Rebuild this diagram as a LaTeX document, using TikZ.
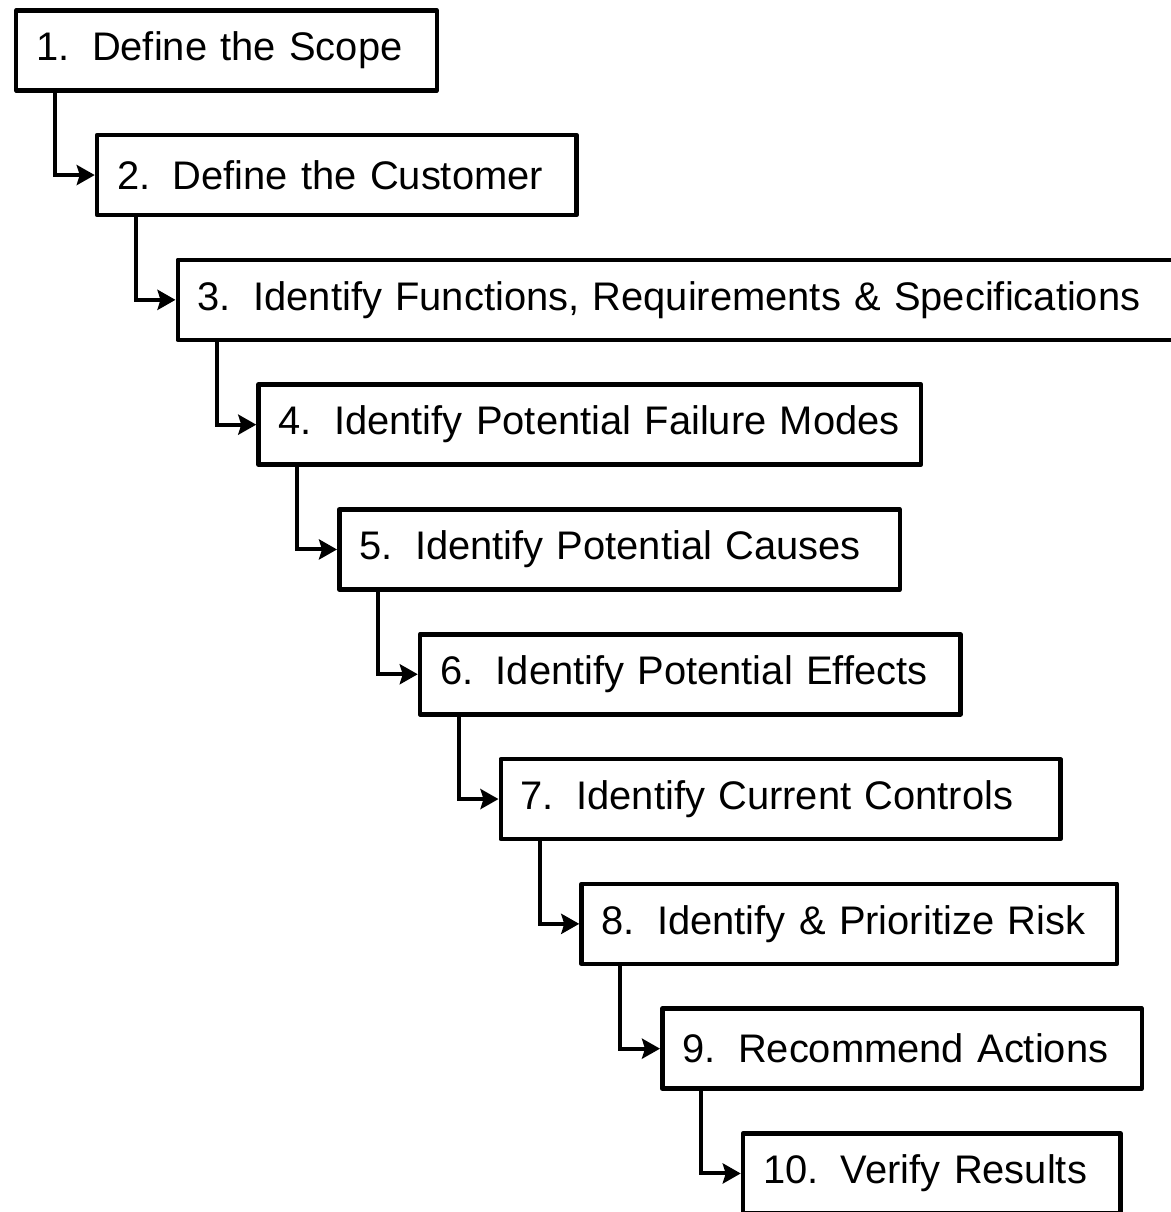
\documentclass[tikz,border=0pt]{standalone}
\usepackage{fontspec}
\setmainfont{Liberation Sans}
\usetikzlibrary{arrows.meta}

\newcommand{\numgap}{\hspace{0.45cm}}
\newcommand{\steplabel}[2]{\mbox{#1.\numgap #2}}

\tikzset{
	stepbox/.style={draw, line width=0.09cm, line join=round, anchor=north west, align=left, inner xsep=0.4cm, minimum height=1.6cm, font=\fontsize{22.7}{27}\selectfont},
	stepline/.style={line width=0.08cm, -{Stealth[length=0.36cm, width=0.4cm, inset=0.06cm]}}
}

\begin{document}
\begin{tikzpicture}
	\useasboundingbox (0, 0) rectangle (23.42, -24.24);
	
	\node[stepbox, text width=7.61cm] (s1) at (0.28, -0.16) {\steplabel{1}{Define the Scope}};
	\node[stepbox, text width=8.79cm] (s2) at (1.895, -2.656) {\steplabel{2}{Define the Customer}};
	\node[stepbox, text width=19.29cm] (s3) at (3.51, -5.152) {\steplabel{3}{Identify Functions, Requirements \& Specifications}};
	\node[stepbox, text width=12.45cm] (s4) at (5.125, -7.648) {\steplabel{4}{Identify Potential Failure Modes}};
	\node[stepbox, text width=10.41cm] (s5) at (6.74, -10.144) {\steplabel{5}{Identify Potential Causes}};
	\node[stepbox, text width=10.01cm] (s6) at (8.355, -12.64) {\steplabel{6}{Identify Potential Effects}};
	\node[stepbox, text width=10.39cm] (s7) at (9.97, -15.136) {\steplabel{7}{Identify Current Controls}};
	\node[stepbox, text width=9.91cm] (s8) at (11.585, -17.632) {\steplabel{8}{Identify \& Prioritize Risk}};
	\node[stepbox, text width=8.79cm] (s9) at (13.2, -20.128) {\steplabel{9}{Recommend Actions}};
	\node[stepbox, text width=6.75cm] (s10) at (14.815, -22.624) {\steplabel{10}{Verify Results}};
	
	\draw[stepline] (s1.south west) ++(0.82, 0) |- (s2.west);
	\draw[stepline] (s2.south west) ++(0.82, 0) |- (s3.west);
	\draw[stepline] (s3.south west) ++(0.82, 0) |- (s4.west);
	\draw[stepline] (s4.south west) ++(0.82, 0) |- (s5.west);
	\draw[stepline] (s5.south west) ++(0.82, 0) |- (s6.west);
	\draw[stepline] (s6.south west) ++(0.82, 0) |- (s7.west);
	\draw[stepline] (s7.south west) ++(0.82, 0) |- (s8.west);
	\draw[stepline] (s8.south west) ++(0.82, 0) |- (s9.west);
	\draw[stepline] (s9.south west) ++(0.82, 0) |- (s10.west);
\end{tikzpicture}
\end{document}
